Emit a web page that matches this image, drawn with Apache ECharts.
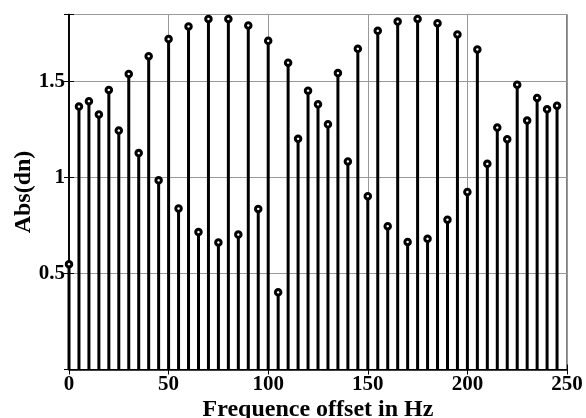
<!DOCTYPE html>
<html>
<head>
<meta charset="utf-8">
<script src="https://cdn.jsdelivr.net/npm/echarts@6/dist/echarts.min.js"></script>
<style>html,body{margin:0;padding:0;background:#fff}#c{width:586px;height:418px}</style>
</head>
<body>
<div id="c"></div>
<script>
const freqs = [0,5,10,15,20,25,30,35,40,45,50,55,60,65,70,75,80,85,90,95,100,105,110,115,120,125,130,135,140,145,150,155,160,165,170,175,180,185,190,195,200,205,210,215,220,225,230,235,240,245];
const absVals = [0.549,1.370,1.398,1.329,1.457,1.245,1.540,1.128,1.633,0.986,1.722,0.839,1.788,0.716,1.827,0.662,1.827,0.703,1.793,0.837,1.713,0.402,1.599,1.202,1.453,1.382,1.278,1.545,1.084,1.671,0.903,1.765,0.747,1.813,0.665,1.827,0.681,1.805,0.781,1.746,0.925,1.668,1.072,1.261,1.200,1.484,1.297,1.415,1.356,1.375];
const yTickLabels = ['0.5','1','1.5'];
const xTickLabels = ['0','50','100','150','200','250'];

const pts = freqs.map((f,i)=>[f, absVals[i]]);
const font = '"Liberation Serif","Times New Roman",serif';
const chart = echarts.init(document.getElementById('c'));
chart.setOption({
  animation:false,
  backgroundColor:'#fff',
  grid:{left:69,right:19,top:14.5,bottom:48.5,containLabel:false,outerBoundsMode:'none',
    show:true,borderColor:'#000',borderWidth:1,backgroundColor:'transparent'},
  xAxis:[{
    type:'value',min:0,max:250,interval:50,
    name:'Frequence offset in Hz',nameLocation:'middle',nameGap:28,nameMoveOverlap:false,
    nameTextStyle:{fontFamily:font,fontWeight:'bold',fontSize:24,color:'#000'},
    axisLine:{show:true,lineStyle:{color:'#000',width:1.5}},
    axisTick:{show:true,inside:true,length:5,lineStyle:{color:'#000'}},
    axisLabel:{margin:5,fontFamily:font,fontWeight:'bold',fontSize:21,color:'#000',
      formatter:v=>xTickLabels.includes(String(v))?String(v):''},
    splitLine:{show:true,lineStyle:{color:'#999',width:1}}
  },{
    type:'value',min:0,max:250,interval:50,position:'top',
    axisLine:{show:true,lineStyle:{color:'#000'}},
    axisTick:{show:true,inside:true,length:5,lineStyle:{color:'#000'}},
    axisLabel:{show:false},splitLine:{show:false}
  }],
  yAxis:[{
    type:'value',min:0,max:1.85,interval:0.5,
    name:'Abs(dn)',nameLocation:'middle',nameGap:33,nameMoveOverlap:false,
    nameTextStyle:{fontFamily:font,fontWeight:'bold',fontSize:24,color:'#000'},
    axisLine:{show:true,lineStyle:{color:'#000',width:1.5}},
    axisTick:{show:true,inside:true,length:5,lineStyle:{color:'#000'}},
    axisLabel:{margin:4,fontFamily:font,fontWeight:'bold',fontSize:21,color:'#000',
      formatter:v=>{const s=String(v);return yTickLabels.includes(s)?s:'';}},
    splitLine:{show:true,lineStyle:{color:'#999',width:1}}
  },{
    type:'value',min:0,max:1.85,interval:0.5,position:'right',
    axisLine:{show:true,lineStyle:{color:'#000',width:1.5}},
    axisTick:{show:true,inside:true,length:5,lineStyle:{color:'#000'}},
    axisLabel:{show:false},splitLine:{show:false}
  }],
  series:[{
    type:'bar',data:pts,barWidth:3,itemStyle:{color:'#000'},z:2
  },{
    type:'scatter',data:pts,symbol:'circle',symbolSize:5.5,
    itemStyle:{color:'#fff',borderColor:'#000',borderWidth:3,opacity:1},z:3
  }]
});
</script>
</body>
</html>
